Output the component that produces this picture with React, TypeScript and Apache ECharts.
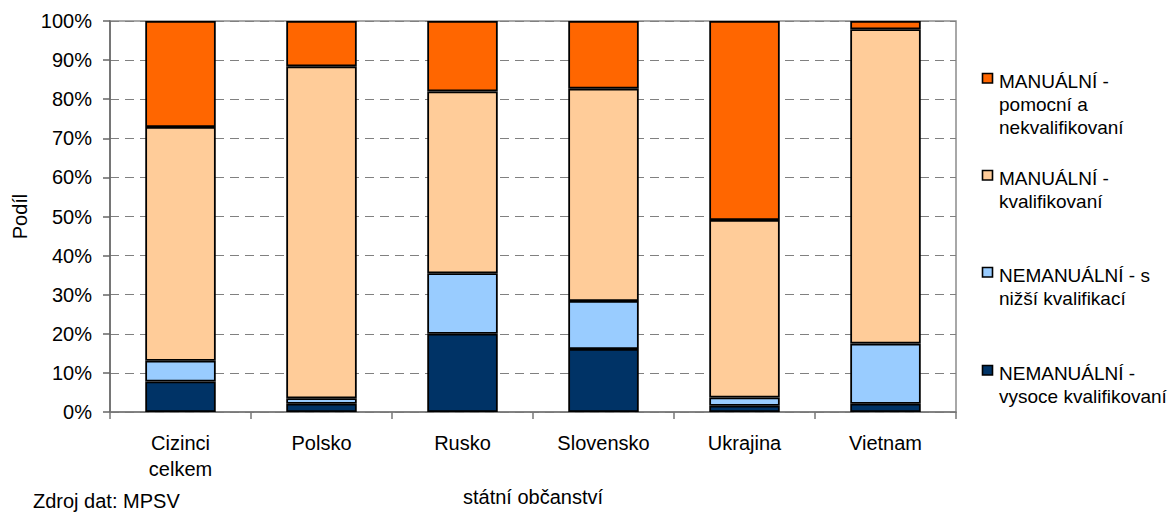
import React, { useEffect, useRef } from "react";
import * as echarts from "echarts";

const categories = ["Cizinci\ncelkem", "Polsko", "Rusko", "Slovensko", "Ukrajina", "Vietnam"];
const yTicks = [0, 10, 20, 30, 40, 50, 60, 70, 80, 90, 100];

const seriesNames = [
  "NEMANUÁLNÍ - vysoce kvalifikovaní",
  "NEMANUÁLNÍ - s nižší kvalifikací",
  "MANUÁLNÍ - kvalifikovaní",
  "MANUÁLNÍ - pomocní a nekvalifikovaní",
];
const legendLabels = [
  "NEMANUÁLNÍ -\nvysoce kvalifikovaní",
  "NEMANUÁLNÍ - s\nnižší kvalifikací",
  "MANUÁLNÍ -\nkvalifikovaní",
  "MANUÁLNÍ -\npomocní a\nnekvalifikovaní",
];
const seriesColors = ["#003366", "#99CCFF", "#FFCC99", "#FF6600"];

const nemanualniVysoce = [7.8, 2.1, 20.0, 16.1, 1.6, 2.1];
const nemanualniNizsi = [5.3, 1.4, 15.5, 12.3, 2.1, 15.4];
const manualniKvalifikovani = [59.8, 84.9, 46.5, 54.3, 45.4, 80.4];
const manualniPomocni = [27.1, 11.6, 18.0, 17.3, 50.9, 2.1];

const seriesData = [nemanualniVysoce, nemanualniNizsi, manualniKvalifikovani, manualniPomocni];

const FONT = "'Liberation Sans', Arial, sans-serif";

export default function App() {
  const ref = useRef<HTMLDivElement>(null);
  useEffect(() => {
    if (!ref.current) return;
    const chart = echarts.init(ref.current, null, { renderer: "svg" });

    const legendOrder = [3, 2, 1, 0];
    const legendFirstLine = [81, 178, 275, 373];
    const legendGraphics: any[] = [];
    legendOrder.forEach((si, i) => {
      const cy = legendFirstLine[i];
      legendGraphics.push({
        type: "rect",
        shape: { x: 982.5, y: cy - 7.5, width: 10, height: 9.5 },
        style: { fill: seriesColors[si], stroke: "#000", lineWidth: 1.6 },
      });
      legendGraphics.push({
        type: "text",
        x: 999,
        y: cy - 11.5,
        style: {
          text: legendLabels[si],
          font: `19px ${FONT}`,
          fill: "#000",
          lineHeight: 23,
          verticalAlign: "top",
          align: "left",
        },
      });
    });

    chart.setOption({
      animation: false,
      backgroundColor: "#fff",
      textStyle: { fontFamily: FONT },
      grid: {
        left: 110,
        right: 219,
        top: 21,
        bottom: 100,
        show: true,
        borderColor: "#8c8c8c",
        borderWidth: 1.5,
        backgroundColor: "transparent",
      },
      legend: { show: false, data: seriesNames },
      xAxis: {
        type: "category",
        data: categories,
        name: "státní občanství",
        nameLocation: "middle",
        nameGap: 75,
        nameTextStyle: { fontSize: 20, color: "#000", fontFamily: FONT },
        axisLine: { lineStyle: { color: "#777", width: 1.5 } },
        axisTick: { show: true, length: 7, lineStyle: { color: "#777", width: 1.5 } },
        axisLabel: { fontSize: 20, color: "#000", lineHeight: 26, margin: 18, fontFamily: FONT },
      },
      yAxis: {
        type: "value",
        min: 0,
        max: 100,
        interval: 10,
        name: "Podíl",
        nameLocation: "middle",
        nameGap: 80,
        nameRotate: 90,
        nameTextStyle: { fontSize: 20, color: "#000", fontFamily: FONT },
        axisLine: { show: true, lineStyle: { color: "#666", width: 1.5 } },
        axisTick: { show: true, length: 7, lineStyle: { color: "#666", width: 1.5 } },
        axisLabel: {
          fontSize: 20,
          color: "#000",
          margin: 18,
          fontFamily: FONT,
          formatter: (v: number) => (yTicks.includes(v) ? `${v}%` : ""),
        },
        splitLine: { show: true, lineStyle: { color: "#808080", type: [9, 6], width: 1.2 } },
      },
      series: seriesData.map((d, i) => ({
        name: seriesNames[i],
        type: "bar",
        stack: "total",
        data: d,
        barWidth: "50%",
        itemStyle: { color: seriesColors[i], borderColor: "#000", borderWidth: 1.8 },
      })),
      graphic: [
        ...legendGraphics,
        {
          type: "text",
          x: 33,
          y: 491,
          style: {
            text: "Zdroj dat: MPSV",
            font: `20px ${FONT}`,
            fill: "#000",
            verticalAlign: "top",
          },
        },
      ],
    });
    return () => chart.dispose();
  }, []);
  return (
    <div
      ref={ref}
      style={{ position: "fixed", left: 0, top: 0, width: 1175, height: 512, background: "#fff" }}
    />
  );
}
